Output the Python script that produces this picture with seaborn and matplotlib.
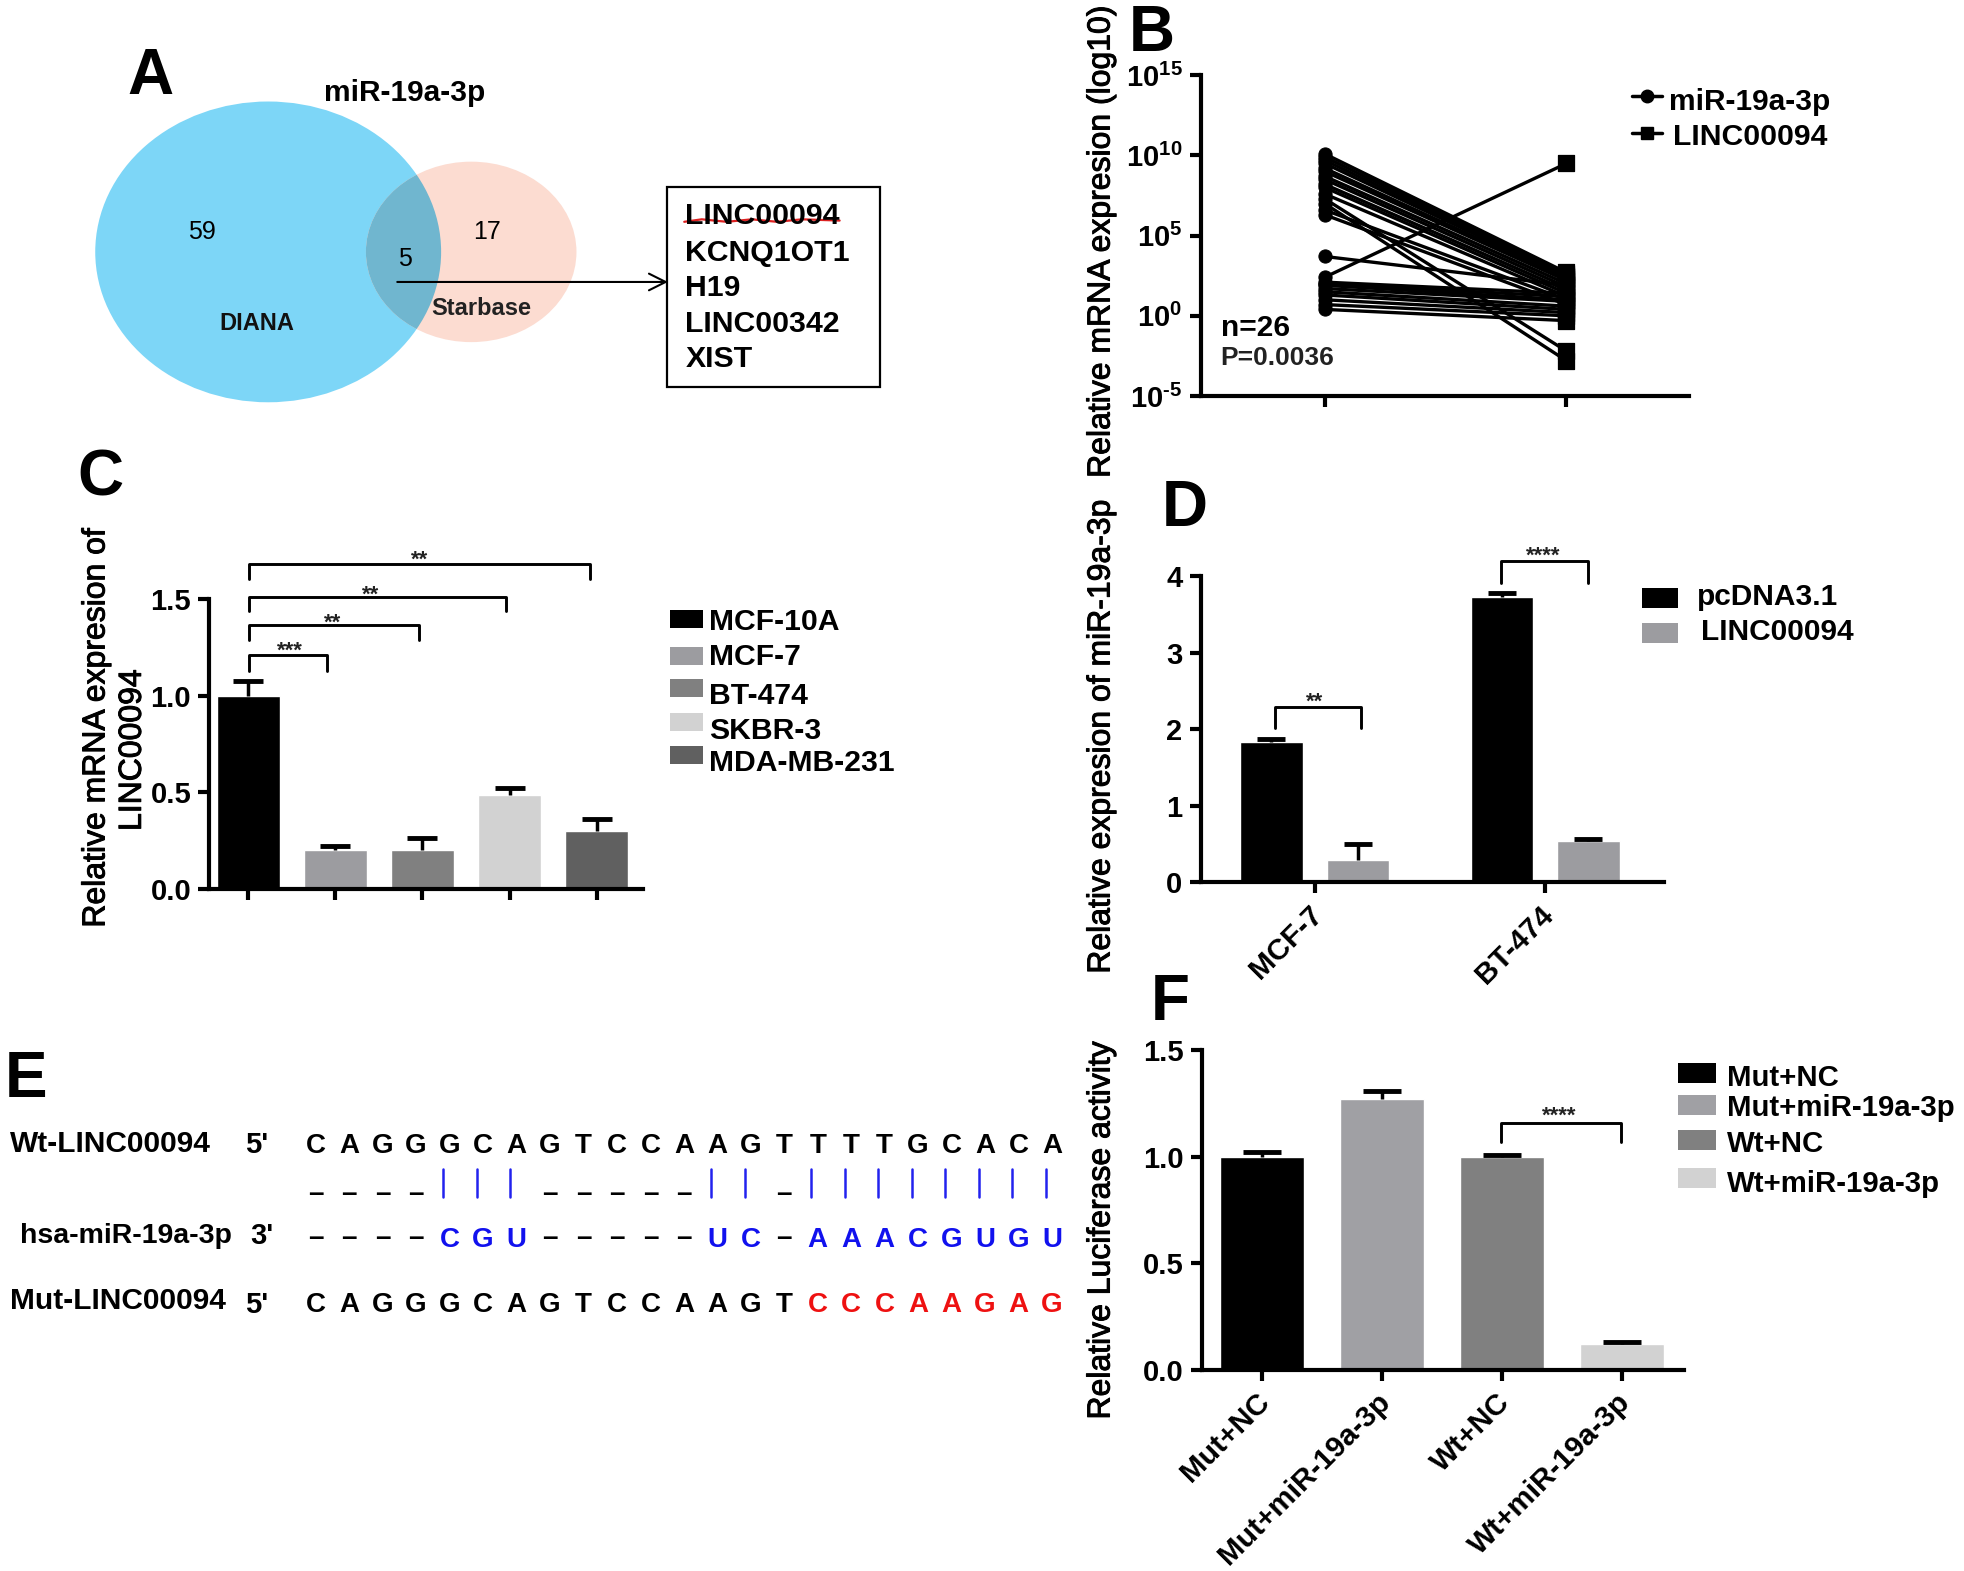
import pandas as pd
import seaborn as sns
import matplotlib.pyplot as plt
import matplotlib.patheffects as pe
from matplotlib.patches import Ellipse, Rectangle
from matplotlib.transforms import ScaledTranslation

sns.set_theme(style='white')
plt.rcParams['font.family'] = ['Liberation Sans', 'DejaVu Sans']
plt.rcParams['mathtext.fontset'] = 'custom'
plt.rcParams['mathtext.bf'] = 'Liberation Sans:bold'
plt.rcParams['mathtext.rm'] = 'Liberation Sans:bold'

# panel B, log10 of expression for the 26 pairs
b_left = [10.1, 9.9, 9.7, 9.5, 9.2, 9.0, 8.7, 8.5, 8.2, 8.0, 7.6, 7.3, 7.0, 6.6, 6.3,
          3.7, 2.4, 2.1, 2.0, 1.9, 1.7, 1.5, 1.3, 1.0, 0.7, 0.4]
b_right = [2.7, 2.6, 2.5, 2.4, 2.3, 2.2, 2.0, 1.8, 1.6, 1.4, 1.2, -2.2, -2.8, 1.0, 0.7,
           1.9, 9.5, 1.4, 1.2, 1.0, 0.9, 0.6, 0.4, 0.2, 0.0, -0.3]
b_ticks = [-5, 0, 5, 10, 15]

# panel C
c_cells = ['MCF-10A', 'MCF-7', 'BT-474', 'SKBR-3', 'MDA-MB-231']
c_vals = [1.0, 0.2, 0.2, 0.486, 0.298]
c_errs = [0.074, 0.018, 0.064, 0.034, 0.06]
c_colors = ['#000000', '#9C9CA0', '#808080', '#D2D2D2', '#606060']

# panel D
d_cells = ['MCF-7', 'BT-474']
d_groups = ['pcDNA3.1', 'LINC00094']
d_control = [1.84, 3.73]
d_linc = [0.285, 0.545]
d_control_err = [0.03, 0.05]
d_linc_err = [0.215, 0.02]
d_colors = ['#000000', '#9C9CA0']

# panel F
f_names = ['Mut+NC', 'Mut+miR-19a-3p', 'Wt+NC', 'Wt+miR-19a-3p']
f_vals = [1.0, 1.27, 1.0, 0.12]
f_errs = [0.02, 0.04, 0.008, 0.008]
f_colors = ['#000000', '#A0A0A4', '#808080', '#D2D2D2']

# panel E sequences
wt_seq = 'CAGGGCAGTCCAAGTTTTGCACA'
pair_seq = '____|||_____||_||||||||'
mir_seq = '----CGU-----UC-AAACGUGU'
mut_seq = 'CAGGGCAGTCCAAGTCCCAAGAG'

# panel A
venn_counts = ['59', '5', '17']
lncrnas = ['LINC00094', 'KCNQ1OT1', 'H19', 'LINC00342', 'XIST']

W, H = 1568, 1253.6
heavy = [pe.withStroke(linewidth=0.7, foreground='black')]


def panel(left, top, right, bottom):
    # positions are given in reference pixels, y going down
    return fig.add_axes([left / W, 1 - bottom / H, (right - left) / W, (bottom - top) / H])


def style(ax):
    sns.despine(ax=ax)
    for s in ['left', 'bottom']:
        ax.spines[s].set_linewidth(3)
        ax.spines[s].set_color('black')
    ax.tick_params(axis='both', width=3, length=8, color='black', left=True, bottom=True, pad=5)
    ax.set_xlabel('')
    ax.set_ylabel('')
    for t in ax.get_yticklabels():
        t.set_fontweight('bold')
        t.set_fontsize(21)
        t.set_color('black')
    for t in ax.get_xticklabels():
        t.set_fontweight('bold')
        t.set_fontsize(21.3)
        t.set_color('black')
        t.set_transform(t.get_transform() + ScaledTranslation(-0.06, 0, fig.dpi_scale_trans))
    ax.patch.set_alpha(0)


def upper_errors(ax, bars, errs, cap=11):
    for b, e in zip(bars, errs):
        _, caps, _ = ax.errorbar(b.get_x() + b.get_width() / 2, b.get_height(), yerr=[[0], [e]],
                                 color='black', elinewidth=2.5, capsize=cap, capthick=3.5)
        caps[0].set_visible(False)


def bracket(ax, x0, x1, top, drop, stars, star_x, star_y):
    ax.plot([x0, x0, x1, x1], [drop, top, top, drop], color='black', lw=2.1, clip_on=False)
    ax.text(star_x, star_y, stars, ha='center', va='center', fontsize=16, fontweight='bold',
            color='#222222', clip_on=False)


fig = plt.figure(figsize=(19.65, 15.71), dpi=100)

# overlay in reference pixels for venn, legends and free text
page = fig.add_axes([0, 0, 1, 1])
page.set_xlim(0, W)
page.set_ylim(H, 0)
page.axis('off')


def label(x, y, s, size=21, weight='bold', color='black', ha='left', **kw):
    page.text(x, y + 1.5, s, fontsize=size, fontweight=weight, color=color, ha=ha, va='center', **kw)


def ylab(x, y, s):
    label(x, y, s, size=23, weight='normal', ha='center', rotation=90, path_effects=heavy)


for s, x, y in [('A', 120, 60), ('B', 919, 26), ('C', 80, 380), ('D', 945, 405), ('E', 21, 860), ('F', 934, 799)]:
    label(x, y, s, size=46, ha='center')

# A
big = Ellipse((214, 201), 276, 240, fc='#7DD6F7', ec='none')
small = Ellipse((376, 201), 168, 144, fc='#FCDCD1', ec='none')
page.add_patch(big)
page.add_patch(small)
overlap = Ellipse((376, 201), 168, 144, fc='#70B6CF', ec='none')
page.add_patch(overlap)
overlap.set_clip_path(big)
label(323, 73, 'miR-19a-3p', size=21.5, ha='center')
label(161, 184, venn_counts[0], size=18, weight='normal', ha='center')
label(323, 205, venn_counts[1], size=18, weight='normal', ha='center')
label(389, 184, venn_counts[2], size=18, weight='normal', ha='center')
label(205, 257, 'DIANA', size=17, ha='center', color='#111111')
label(384, 245, 'Starbase', size=17, ha='center', color='#222222')
page.annotate('', xy=(533, 225), xytext=(317, 225),
              arrowprops=dict(arrowstyle='->', lw=1.5, color='black', mutation_scale=30, shrinkA=0, shrinkB=0))
page.add_patch(Rectangle((532, 149), 170, 160, fc='none', ec='black', lw=1.6))
for name, y in zip(lncrnas, [171, 200, 228, 257, 285]):
    label(547, y, name, size=21.8)
page.plot([546, 560, 580, 600, 620, 640, 670], [177, 175, 177, 175, 177, 175, 176], color='#DD2222', lw=1.6)

# B
pairs = pd.DataFrame({'pair': list(range(26)) * 2,
                      'stage': [0] * 26 + [1] * 26,
                      'expr': [10.0 ** v for v in b_left + b_right]})
ax = panel(958, 60, 1348, 316)
sns.lineplot(data=pairs, x='stage', y='expr', units='pair', estimator=None, color='black', lw=2.4, ax=ax)
sns.scatterplot(data=pairs[pairs.stage == 0], x='stage', y='expr', marker='o', s=90, color='black',
                edgecolor='black', ax=ax, clip_on=False)
sns.scatterplot(data=pairs[pairs.stage == 1], x='stage', y='expr', marker='s', s=130, color='black',
                edgecolor='black', ax=ax, clip_on=False)
ax.set_yscale('log')
ax.set_ylim(1e-5, 1e15)
ax.set_xlim(-0.513, 1.508)
ax.set_xticks([0, 1])
ax.set_xticklabels([])
ax.set_yticks([10.0 ** t for t in b_ticks])
ax.set_yticklabels(['$\\mathbf{10}^{\\text{%d}}$' % t for t in b_ticks])
ax.minorticks_off()
style(ax)
label(974, 260, 'n=26', size=21.5)
label(974, 284, 'P=0.0036', size=19, color='#222222')
ylab(879, 191, 'Relative mRNA expresion (log10)')
page.plot([1302, 1326], [77, 77], color='black', lw=2.5)
page.plot([1314], [77], color='black', marker='o', ms=9)
page.plot([1302, 1326], [106, 106], color='black', lw=2.5)
page.plot([1314], [106], color='black', marker='s', ms=9)
label(1332, 80, 'miR-19a-3p', size=21.5)
label(1335, 108, 'LINC00094', size=21.7)

# C
ax = panel(167, 478, 513, 709)
sns.barplot(x=c_cells, y=c_vals, hue=c_cells, palette=c_colors, width=0.72, dodge=False, legend=False,
            saturation=1, ax=ax)
upper_errors(ax, ax.patches, c_errs)
ax.set_xlim(-0.446, 4.53)
ax.set_ylim(0, 1.5)
ax.set_yticks([0, 0.5, 1.0, 1.5])
ax.set_yticklabels(['0.0', '0.5', '1.0', '1.5'])
ax.set_xticks(range(5))
ax.set_xticklabels([])
style(ax)
bracket(ax, 0.01, 0.906, 1.212, 1.128, '***', 0.475, 1.23)
bracket(ax, 0.01, 1.957, 1.365, 1.288, '**', 0.97, 1.375)
bracket(ax, 0.01, 2.964, 1.513, 1.436, '**', 1.41, 1.52)
bracket(ax, 0.01, 3.928, 1.679, 1.603, '**', 1.97, 1.70)
ylab(77, 579, 'Relative mRNA expresion of')
ylab(106, 597, 'LINC00094')
for name, color, py, ty in zip(c_cells, c_colors, [494, 523, 549, 576, 602], [495, 523, 554, 582, 607]):
    page.add_patch(Rectangle((535, py - 7), 26, 14.5, fc=color, ec='none'))
    label(566, ty, name, size=21.7)

# D
d_frame = pd.DataFrame({'cell': d_cells * 2,
                        'group': [d_groups[0]] * 2 + [d_groups[1]] * 2,
                        'value': d_control + d_linc})
ax = panel(958, 460, 1328, 704)
sns.barplot(data=d_frame, x='cell', y='value', hue='group', palette=d_colors, width=0.75, gap=0.275,
            legend=False, saturation=1, ax=ax)
upper_errors(ax, ax.containers[0], d_control_err, cap=10)
upper_errors(ax, ax.containers[1], d_linc_err, cap=10)
ax.set_xlim(-0.495, 1.516)
ax.set_ylim(0, 4)
ax.set_yticks([0, 1, 2, 3, 4])
ax.set_xticks([0, 1])
ax.set_xticklabels(d_cells, rotation=45, ha='right', rotation_mode='anchor')
style(ax)
bracket(ax, -0.174, 0.2, 2.295, 2.016, '**', 0, 2.35)
bracket(ax, 0.81, 1.185, 4.197, 3.92, '****', 0.99, 4.27)
ylab(879, 586, 'Relative expresion of miR-19a-3p')
for name, color, py, tx, ty in zip(d_groups, d_colors, [477, 505], [1354, 1357], [475, 503]):
    page.add_patch(Rectangle((1310, py - 8), 29, 16, fc=color, ec='none'))
    label(tx, ty, name, size=21.5)

# F
ax = panel(959, 838, 1344, 1093)
sns.barplot(x=f_names, y=f_vals, hue=f_names, palette=f_colors, width=0.7, dodge=False, legend=False,
            saturation=1, ax=ax)
upper_errors(ax, ax.patches, f_errs, cap=14)
ax.set_xlim(-0.5, 3.52)
ax.set_ylim(0, 1.5)
ax.set_yticks([0, 0.5, 1.0, 1.5])
ax.set_yticklabels(['0.0', '0.5', '1.0', '1.5'])
ax.set_xticks(range(4))
ax.set_xticklabels(f_names, rotation=45, ha='right', rotation_mode='anchor')
style(ax)
bracket(ax, 1.996, 2.99, 1.157, 1.07, '****', 2.48, 1.19)
ylab(879, 980, 'Relative Luciferase activity')
for name, color, py, ty in zip(f_names, f_colors, [856, 882, 910, 940], [859, 883, 911, 943]):
    page.add_patch(Rectangle((1339, py - 8), 30, 16, fc=color, ec='none'))
    label(1378, ty, name, size=21.2)

# E
label(8, 911, 'Wt-LINC00094', size=21.5)
label(16, 985, 'hsa-miR-19a-3p', size=20.5)
label(8, 1037, 'Mut-LINC00094', size=21.5)
label(205, 912, "5'", size=21, ha='center')
label(209, 985, "3'", size=21, ha='center')
label(205, 1040, "5'", size=21, ha='center')
for i in range(len(wt_seq)):
    x = 252 + 26.7 * i
    label(x, 913, wt_seq[i], size=20, ha='center')
    if pair_seq[i] == '|':
        page.plot([x - 5, x - 5], [933, 955], color='#2222EE', lw=1.8)
    else:
        label(x, 951, '\u2013', size=20, ha='center')
    if mir_seq[i] == '-':
        label(x, 986, '\u2013', size=20, ha='center')
    else:
        label(x, 988, mir_seq[i], size=20, ha='center', color='#1111EE')
    label(x, 1040, mut_seq[i], size=20, ha='center', color='black' if i < 15 else '#EE1111')

fig.savefig('out.png', dpi=100)
